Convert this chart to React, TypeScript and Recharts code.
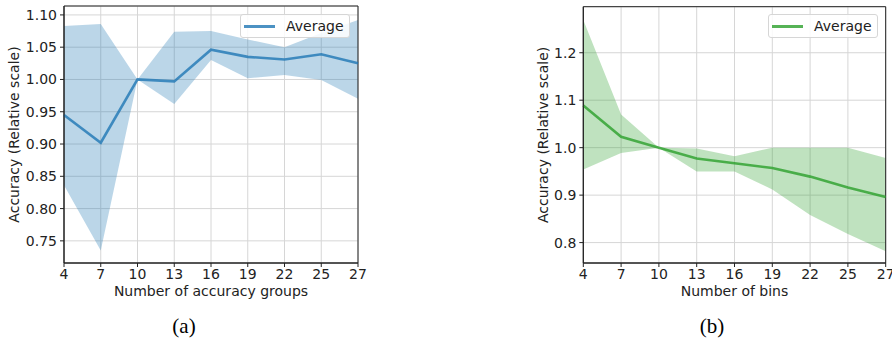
import React from "react";
import {
  ComposedChart,
  Area,
  Line,
  XAxis,
  YAxis,
  CartesianGrid,
  Legend,
  ReferenceArea,
} from "recharts";

// x categories shared by both panels
const sizes = ["4", "7", "10", "13", "16", "19", "22", "25", "27"];

// (a) number of accuracy groups
const groupsAvg = [0.945, 0.902, 1.0, 0.997, 1.046, 1.035, 1.031, 1.039, 1.025];
const groupsLow = [0.836, 0.735, 1.0, 0.962, 1.03, 1.002, 1.007, 0.999, 0.97];
const groupsHigh = [1.083, 1.086, 1.0, 1.074, 1.075, 1.062, 1.05, 1.072, 1.092];
const groupsTicks = [0.75, 0.8, 0.85, 0.9, 0.95, 1.0, 1.05, 1.1];

// (b) number of bins
const binsAvg = [1.089, 1.023, 1.0, 0.977, 0.967, 0.957, 0.939, 0.916, 0.896];
const binsLow = [0.954, 0.989, 1.0, 0.95, 0.95, 0.912, 0.858, 0.818, 0.782];
const binsHigh = [1.269, 1.07, 1.0, 0.998, 0.982, 1.0, 1.0, 1.0, 0.978];
const binsTicks = [0.8, 0.9, 1.0, 1.1, 1.2];

const FONT = "'DejaVu Sans', sans-serif";
const TEXT = "#222";

type PanelProps = {
  avg: number[];
  low: number[];
  high: number[];
  ticks: number[];
  domain: [number, number];
  digits: number;
  color: string;
  xTitle: string;
  left: number;
  width: number;
  marginRight: number;
  marginTop: number;
  yAxisWidth: number;
  yTitleOffset: number;
  legendLeft: number;
};

function LegendBox({ color }: { color: string }) {
  return (
    <div
      style={{
        width: 110,
        height: 24,
        boxSizing: "border-box",
        border: "1px solid #d6d6d6",
        borderRadius: 3,
        background: "rgba(255,255,255,0.85)",
        display: "flex",
        alignItems: "center",
        fontFamily: FONT,
        fontSize: 14,
        color: TEXT,
      }}
    >
      <span
        style={{
          display: "inline-block",
          width: 31,
          height: 3,
          marginLeft: 3,
          background: color,
          opacity: 0.8,
        }}
      />
      <span style={{ marginLeft: 11 }}>Average</span>
    </div>
  );
}

function Panel(p: PanelProps) {
  const data = sizes.map((s, i) => ({
    size: s,
    avg: p.avg[i],
    band: [p.low[i], p.high[i]],
  }));

  return (
    <div style={{ position: "absolute", left: p.left, top: 0 }}>
      <ComposedChart
        width={p.width}
        height={305}
        data={data}
        margin={{ top: p.marginTop, right: p.marginRight, bottom: 0, left: 0 }}
      >
        <CartesianGrid stroke="#d6d6d6" strokeWidth={1} />
        <XAxis
          dataKey="size"
          scale="point"
          padding={{ left: 0, right: 0 }}
          height={42}
          tickSize={4}
          tickMargin={2}
          interval={0}
          stroke="#222"
          tick={{ fill: TEXT, fontSize: 14, fontFamily: FONT }}
          label={{
            value: p.xTitle,
            position: "insideBottom",
            offset: 9,
            fill: TEXT,
            fontSize: 14,
            fontFamily: FONT,
          }}
        />
        <YAxis
          type="number"
          domain={p.domain}
          ticks={p.ticks}
          allowDataOverflow
          width={p.yAxisWidth}
          tickSize={4}
          tickMargin={3}
          stroke="#222"
          tickFormatter={(v: number) => v.toFixed(p.digits)}
          tick={{ fill: TEXT, fontSize: 14, fontFamily: FONT }}
          label={{
            value: "Accuracy (Relative scale)",
            angle: -90,
            position: "insideLeft",
            offset: p.yTitleOffset,
            fill: TEXT,
            fontSize: 14,
            fontFamily: FONT,
            style: { textAnchor: "middle" },
          }}
        />
        <Area
          dataKey="band"
          stroke="none"
          fill={p.color}
          fillOpacity={0.3}
          legendType="none"
          isAnimationActive={false}
        />
        <Line
          dataKey="avg"
          stroke={p.color}
          strokeOpacity={0.8}
          strokeWidth={2.6}
          dot={false}
          activeDot={false}
          isAnimationActive={false}
        />
        <ReferenceArea
          x1="4"
          x2="27"
          y1={p.domain[0]}
          y2={p.domain[1]}
          fill="none"
          stroke="#222"
          strokeWidth={1}
          ifOverflow="visible"
        />
        <Legend
          layout="horizontal"
          verticalAlign="middle"
          align="center"
          wrapperStyle={{ left: p.legendLeft, top: 14, width: 110, height: 24 }}
          content={() => <LegendBox color={p.color} />}
        />
      </ComposedChart>
    </div>
  );
}

const captionStyle: React.CSSProperties = {
  position: "absolute",
  top: 314,
  width: 60,
  textAlign: "center",
  fontFamily: "'Liberation Serif', serif",
  fontSize: 21,
  color: "#000",
};

export default function App() {
  return (
    <div
      style={{
        position: "absolute",
        left: 0,
        top: 0,
        width: 892,
        height: 341,
        background: "#fff",
        overflow: "hidden",
      }}
    >
      <Panel
        avg={groupsAvg}
        low={groupsLow}
        high={groupsHigh}
        ticks={groupsTicks}
        domain={[0.7157, 1.1138]}
        digits={2}
        color="#1f77b4"
        xTitle="Number of accuracy groups"
        left={0}
        width={370}
        marginRight={12}
        marginTop={6}
        yAxisWidth={64}
        yTitleOffset={14}
        legendLeft={240}
      />
      <Panel
        avg={binsAvg}
        low={binsLow}
        high={binsHigh}
        ticks={binsTicks}
        domain={[0.757, 1.297]}
        digits={1}
        color="#2ca02c"
        xTitle="Number of bins"
        left={520}
        width={372}
        marginRight={6.3}
        marginTop={6.7}
        yAxisWidth={63.3}
        yTitleOffset={23}
        legendLeft={248}
      />
      <div style={{ ...captionStyle, left: 154 }}>(a)</div>
      <div style={{ ...captionStyle, left: 682 }}>(b)</div>
    </div>
  );
}
